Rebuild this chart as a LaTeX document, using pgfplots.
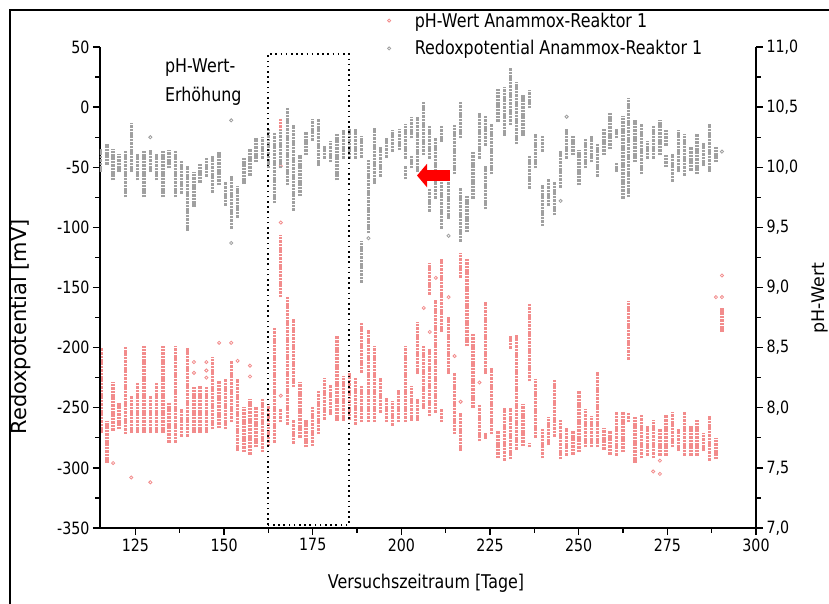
\documentclass[border=0pt]{standalone}
\usepackage{pgfplots}
\pgfplotsset{compat=1.18}
\usepackage{pgfplotstable}
\usepackage{fontspec}
\setmainfont{DejaVu Sans}[FakeStretch=0.84]
\newfontfamily\vfont{DejaVu Sans}
\usetikzlibrary{arrows.meta}

\definecolor{phred}{RGB}{242,140,140}
\definecolor{rxgrey}{RGB}{160,160,160}

% Redox columns: day, lowest and highest reading of the day (mV)
\pgfplotstableread{
x lo hi
115.2 -54 -35
117.0 -48 -31
118.7 -61 -35
120.4 -54 -39
122.1 -75 -36
123.8 -54 -13
125.6 -61 -39
127.4 -75 -36
129.2 -54 -36
131.0 -61 -39
132.8 -75 -36
134.5 -51 -36
136.3 -75 -36
138.0 -72 -44
139.7 -103 -49
141.5 -83 -54
143.2 -63 -47
145.0 -58 -42
146.8 -71 -40
148.6 -65 -37
150.3 -82 -62
152.0 -101 -57
153.8 -92 -66
155.6 -64 -42
157.3 -57 -35
159.0 -46 -26
160.8 -43 -25
162.5 -51 -18
164.3 -80 -21
166.0 -51 -19
167.8 -65 -1
169.6 -86 -15
171.4 -74 -40
173.1 -40 -21
174.9 -28 -10
176.6 -49 -10
178.4 -43 -32
180.1 -46 -28
181.8 -61 -22
183.6 -43 -19
185.4 -43 -18
187.1 -43 -18
188.8 -42 -24
188.8 -146 -111
190.7 -105 -44
192.4 -64 -17
194.1 -58 -33
195.7 -42 -26
197.5 -37 -19
199.4 -36 -18
201.1 -43 -14
201.1 -60 -49
202.8 -26 -8
202.8 -51 -40
204.6 -54 -8
206.3 -40 4
208.0 -43 -15
208.0 -87 -68
209.7 -76 -26
211.4 -29 -15
211.4 -101 -60
213.3 -93 -62
215.0 -56 -15
216.7 -26 4
216.7 -112 -67
218.5 -104 -74
220.2 -76 -37
222.0 -43 -5
223.8 -32 -7
223.8 -85 -49
225.5 -56 -14
227.2 -12 15
229.0 -24 17
230.8 -15 33
232.4 -31 21
234.3 -24 10
236.2 -1 14
236.2 -68 -40
237.9 -51 -22
239.7 -37 -24
239.7 -99 -65
241.4 -82 -60
243.2 -90 -62
244.9 -67 -36
246.6 -43 -18
248.4 -40 -24
250.1 -65 -36
252.0 -51 -26
253.6 -46 -24
255.3 -58 -31
257.1 -40 -18
258.8 -35 -5
260.6 -26 -18
260.6 -54 -46
262.5 -76 -7
264.0 -75 8
265.9 -46 -11
267.7 -56 -14
269.4 -43 -28
271.0 -43 -15
272.9 -40 -11
274.6 -32 -19
274.6 -50 -40
276.4 -62 -39
278.1 -54 -19
279.9 -57 -22
281.7 -53 -33
283.4 -56 -22
285.1 -49 -30
286.9 -54 -14
288.7 -46 -33
}\rxcols

\pgfplotstableread{
x y
129.2 -25
152.0 -11
152.0 -113
190.7 -109
213.3 -107
244.9 -78
246.6 -8
290.4 -37
}\rxsingle

% pH columns: day, lowest and highest reading of the day
\pgfplotstableread{
x lo hi
115.5 7.79 8.50
117.0 7.54 7.89
118.7 7.81 8.21
120.4 7.82 8.04
122.1 7.78 8.51
123.8 7.79 8.10
125.6 7.79 8.21
127.4 7.79 8.51
129.2 7.79 8.10
131.0 7.79 8.21
132.8 7.79 8.51
134.5 7.71 8.04
136.3 7.71 8.51
138.0 7.76 7.99
139.7 7.76 8.50
141.5 7.79 8.17
143.2 7.79 8.18
145.0 7.79 8.17
146.8 7.82 8.42
148.6 7.83 8.22
150.3 7.82 8.24
152.0 7.88 8.39
153.8 7.64 8.24
155.6 7.63 8.01
157.3 7.61 8.07
159.0 7.67 8.01
160.8 7.63 8.07
162.5 7.68 8.03
164.3 7.71 8.67
166.0 8.92 9.44
166.0 7.88 7.99
166.0 10.30 10.40
167.8 7.86 8.92
169.6 8.17 8.74
169.6 7.70 7.90
171.4 7.75 8.21
173.1 7.67 7.90
174.9 7.68 8.01
176.6 7.78 8.14
178.4 7.90 8.25
180.1 7.94 8.19
181.8 7.89 8.60
183.6 7.89 8.26
185.4 7.90 8.29
187.1 7.86 8.25
188.8 8.29 8.71
188.8 7.88 8.19
190.7 7.88 8.65
192.4 7.88 8.51
194.1 7.96 8.25
195.7 7.88 8.08
197.5 7.85 8.06
199.2 7.88 8.15
201.1 7.88 8.51
202.8 7.89 8.18
204.6 8.28 8.71
204.6 7.89 8.07
206.3 7.99 8.51
208.0 8.94 9.20
208.0 7.93 8.49
209.7 7.96 8.90
211.4 8.63 9.24
211.4 7.88 7.99
213.3 8.28 8.76
215.0 7.78 8.29
216.7 9.08 9.29
216.7 7.64 7.96
218.5 8.51 9.24
220.2 8.00 8.61
222.0 7.72 8.03
223.8 8.28 8.88
223.8 7.74 7.79
225.5 7.78 8.33
227.2 7.58 7.81
229.0 7.56 8.00
230.8 8.49 8.60
230.8 7.57 8.00
232.4 7.65 8.61
234.3 7.68 8.03
236.2 8.22 8.86
236.2 7.67 7.71
237.9 7.75 8.24
239.7 7.58 7.82
241.4 7.69 7.92
243.2 7.76 8.24
244.9 7.57 7.90
246.6 7.60 7.83
248.4 7.61 7.81
250.1 7.63 8.14
252.0 7.67 7.99
253.6 7.67 7.93
255.3 7.67 8.30
257.1 7.65 7.83
258.8 7.61 7.81
260.6 7.60 7.99
262.5 7.63 7.99
264.0 8.40 8.89
264.0 7.88 7.99
265.9 7.54 7.92
267.7 7.58 7.94
269.4 7.60 7.85
271.0 7.58 7.90
272.9 7.60 7.82
274.6 7.60 7.94
276.4 7.67 7.97
278.1 7.64 7.82
279.9 7.60 7.97
281.7 7.60 7.85
283.4 7.60 7.90
285.1 7.64 7.79
286.9 7.56 7.93
288.7 7.57 7.75
290.4 8.63 8.83
}\phcols

\pgfplotstableread{
x y
118.7 7.54
123.8 7.42
129.2 7.38
141.5 8.38
141.5 8.29
145.0 8.38
145.0 8.31
145.0 8.25
148.6 8.54
152.0 8.54
153.8 8.39
157.3 8.35
157.3 8.26
166.0 10.01
166.0 9.54
166.0 8.10
206.3 8.83
208.0 8.63
209.7 9.08
213.3 8.92
215.0 8.43
216.7 8.05
222.0 8.21
271.0 7.47
272.9 7.56
272.9 7.45
288.7 8.92
290.4 9.10
290.4 8.92
}\phsingle

\pgfplotsset{
  common/.style={
    scale only axis, width=656bp, height=481bp,
    xmin=115, xmax=300,
    tick align=outside,
    major tick length=7bp, minor tick length=4.5bp,
    axis line style={line width=1.5bp, black},
    every tick/.style={line width=1.3bp, black},
    tick label style={font=\fontsize{17}{20}\selectfont},
    /pgf/number format/assume math mode=true,
    /pgf/number format/1000 sep={},
  },
  % one column of readings, stacked from lo to hi
  colbars/.style={
    no markers, draw=none, forget plot,
    error bars/.cd, y dir=plus, y explicit, error mark=none,
    error bar style={line width=3.3bp, draw=#1, dash pattern=on 2.6bp off 0.8bp},
  },
  single/.style={only marks, mark=o, mark size=1.6bp, mark options={draw=#1, line width=0.8bp}, forget plot},
}

\begin{document}
\begin{tikzpicture}
\useasboundingbox (-100bp,-76bp) rectangle (729bp,528bp);

% right axis: pH
\begin{axis}[
  common,
  ymin=7, ymax=11,
  axis x line=none,
  axis y line*=right,
  ytick={7,7.5,...,11}, minor y tick num=1,
  yticklabel style={/pgf/number format/.cd, fixed, fixed zerofill, precision=1, use comma},
  ylabel={pH-Wert},
  ylabel style={font=\vfont\fontsize{17.5}{20}\selectfont, at={(axis description cs:1.0976,0.478)}, anchor=center},
]
\addplot[colbars=phred] table[x=x, y=lo, y error expr=\thisrow{hi}-\thisrow{lo}] {\phcols};
\addplot[single=phred] table[x=x, y=y] {\phsingle};
\end{axis}

% left axis: redox potential
\begin{axis}[
  common,
  ymin=-350, ymax=50,
  axis x line*=bottom,
  axis y line*=left,
  xtick={125,150,...,300}, minor x tick num=1,
  ytick={-350,-300,...,50}, minor y tick num=1,
  xlabel={Versuchszeitraum [Tage]},
  xlabel style={font=\fontsize{19}{22}\selectfont, at={(axis description cs:0.497,-0.115)}, anchor=center},
  ylabel={Redoxpotential [mV]},
  ylabel style={font=\vfont\fontsize{21}{24}\selectfont, at={(axis description cs:-0.121,0.418)}, anchor=center},
  legend style={at={(axis description cs:0.438,1.075)}, anchor=north west, draw=none, fill=none,
    font=\fontsize{19}{22}\selectfont, inner sep=0pt, row sep=9bp, nodes={inner sep=1.5bp}},
  legend cell align=left,
  legend image code/.code={\draw[#1, only marks] plot coordinates {(0bp,0bp)}; \path (24bp,0bp);},
]
\addplot[colbars=rxgrey] table[x=x, y=lo, y error expr=\thisrow{hi}-\thisrow{lo}] {\rxcols};
\addplot[single=rxgrey] table[x=x, y=y] {\rxsingle};

% white patch over part of the pH data, as in the original
\fill[white] (axis cs:256.0,-211.7) rectangle (axis cs:295.9,-253.3);
% pH increase window
\draw[line width=1.6bp, dash pattern=on 1.6bp off 3.6bp] (axis cs:162.4,-347.5) rectangle (axis cs:185.2,44.2);
\node[anchor=west, inner sep=0, font=\fontsize{19}{22}\selectfont] at (axis cs:133.3,32.5) {pH-Wert-};
\node[anchor=west, inner sep=0, font=\fontsize{19}{22}\selectfont] at (axis cs:133.3,9.2) {Erhöhung};
\draw[line width=10.5bp, red, -{Triangle[length=10bp, width=23bp]}] (axis cs:213.7,-56.9) -- (axis cs:204.4,-56.9);

\addlegendimage{single=phred}
\addlegendentry{pH-Wert Anammox-Reaktor 1}
\addlegendimage{single=rxgrey}
\addlegendentry{Redoxpotential Anammox-Reaktor 1}
\end{axis}

% outer frame (left and top edges)
\draw[line width=1.2bp] (-90bp,-80bp) -- (-90bp,518bp) -- (735bp,518bp);
\end{tikzpicture}
\end{document}
